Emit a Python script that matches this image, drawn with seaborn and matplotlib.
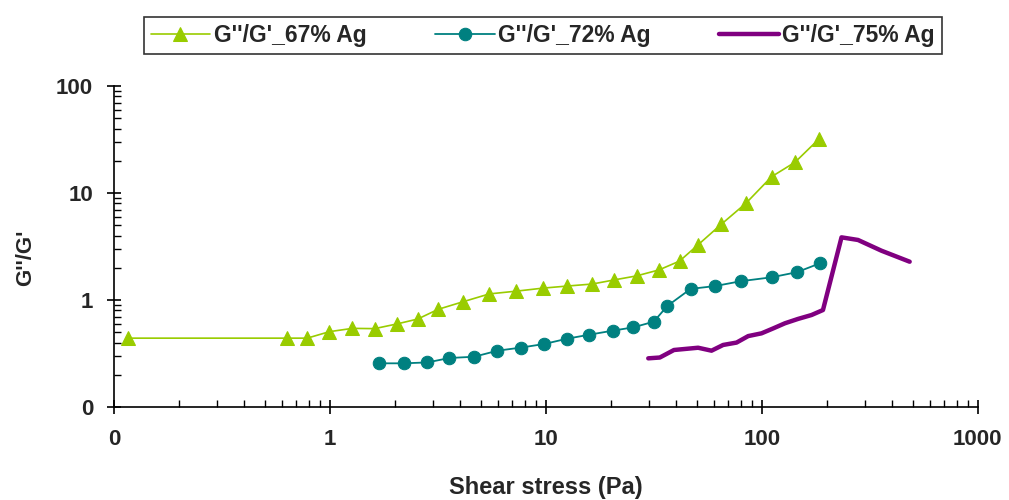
import numpy as np
import pandas as pd
import matplotlib
matplotlib.use('Agg')
import matplotlib.pyplot as plt
import seaborn as sns
from matplotlib.ticker import FixedLocator, FixedFormatter, LogLocator, NullFormatter

# ------------------------------
# Data
# ------------------------------
stress_67 = [0.116, 0.63, 0.785, 0.995, 1.27, 1.61, 2.04, 2.55, 3.17, 4.14, 5.47, 7.31,
             9.66, 12.55, 16.4, 20.7, 26.3, 33.4, 41.6, 50.6, 64.9, 84.4, 111, 142.6, 184]
ratio_67 = [0.44, 0.44, 0.44, 0.506, 0.543, 0.54, 0.597, 0.664, 0.818, 0.964, 1.14, 1.21,
            1.29, 1.35, 1.41, 1.54, 1.68, 1.91, 2.31, 3.27, 5.10, 8.01, 14.2, 19.4, 32.0]

stress_72 = [1.69, 2.20, 2.83, 3.57, 4.66, 5.97, 7.66, 9.82, 12.55, 15.9, 20.4, 25.4,
             31.6, 36.5, 46.8, 60.8, 80.2, 111, 145.6, 185.6]
ratio_72 = [0.256, 0.256, 0.261, 0.287, 0.295, 0.336, 0.359, 0.388, 0.435, 0.474, 0.517,
            0.555, 0.627, 0.879, 1.27, 1.35, 1.50, 1.63, 1.82, 2.20]

stress_75 = [29.8, 33.7, 39.2, 50.7, 58.5, 66.2, 76.4, 86.5, 99.7, 113, 128, 147, 170,
             192, 234, 279, 358, 484]
ratio_75 = [0.285, 0.29, 0.341, 0.358, 0.336, 0.38, 0.40, 0.46, 0.488, 0.543, 0.606,
            0.665, 0.724, 0.806, 3.85, 3.64, 2.89, 2.28]

labels = ["G''/G'_67% Ag", "G''/G'_72% Ag", "G''/G'_75% Ag"]
x_ticks = [0.1, 1, 10, 100, 1000]
x_ticklabels = ['0', '1', '10', '100', '1000']
y_ticks = [0.1, 1, 10, 100]
y_ticklabels = ['0', '1', '10', '100']

sns.set_style('white')
plt.rcParams['font.family'] = ['Liberation Sans', 'DejaVu Sans']
plt.rcParams['font.weight'] = 'bold'

fig = plt.figure(figsize=(10.09, 5.0), dpi=100)
ax = fig.add_axes([0.113, 0.186, 0.856, 0.642])

sns.lineplot(x=stress_67, y=ratio_67, ax=ax, sort=False, estimator=None,
             color='#99CC00', lw=1.2, marker='^', markersize=10,
             markeredgecolor='#99CC00', label=labels[0])
sns.lineplot(x=stress_72, y=ratio_72, ax=ax, sort=False, estimator=None,
             color='#008080', lw=1.3, marker='o', markersize=9,
             markeredgecolor='#008080', label=labels[1])
sns.lineplot(x=stress_75, y=ratio_75, ax=ax, sort=False, estimator=None,
             color='#800080', lw=3.2, label=labels[2])

ax.set_xscale('log')
ax.set_yscale('log')
ax.set_xlim(0.1, 1000)
ax.set_ylim(0.1, 100)

ax.xaxis.set_major_locator(FixedLocator(x_ticks))
ax.xaxis.set_major_formatter(FixedFormatter(x_ticklabels))
ax.yaxis.set_major_locator(FixedLocator(y_ticks))
ax.yaxis.set_major_formatter(FixedFormatter(y_ticklabels))
ax.xaxis.set_minor_locator(LogLocator(base=10, subs=np.arange(2, 10)))
ax.yaxis.set_minor_locator(LogLocator(base=10, subs=np.arange(2, 10)))
ax.xaxis.set_minor_formatter(NullFormatter())
ax.yaxis.set_minor_formatter(NullFormatter())

ax.tick_params(which='major', direction='inout', length=10, width=1.2, color='black',
               labelsize=16, pad=11, bottom=True, left=True)
ax.tick_params(which='minor', direction='in', length=5, width=1, color='black',
               bottom=True, left=True)
ax.tick_params(axis='y', which='major', pad=10)
for lab in ax.get_xticklabels() + ax.get_yticklabels():
    lab.set_fontweight('bold')

sns.despine(ax=ax)
for s in ['left', 'bottom']:
    ax.spines[s].set_color('black')
    ax.spines[s].set_linewidth(1.2)

ax.set_xlabel('Shear stress (Pa)', fontsize=17, fontweight='bold')
ax.set_ylabel("G''/G'", fontsize=16, fontweight='bold')
ax.xaxis.set_label_coords(0.5, -0.215)
ax.yaxis.set_label_coords(-0.09, 0.465)

handles, labs = ax.get_legend_handles_labels()
ax.get_legend().remove()
leg = fig.legend(handles, labs, loc='upper center', bbox_to_anchor=(0.538, 0.988),
                 ncol=3, frameon=True, fancybox=False, edgecolor='black',
                 prop={'size': 16.5, 'weight': 'bold'}, handlelength=2.6,
                 handletextpad=0.15, columnspacing=3.0, borderpad=0.3)
leg.get_frame().set_linewidth(1.2)

fig.savefig('out.png', dpi=100)
